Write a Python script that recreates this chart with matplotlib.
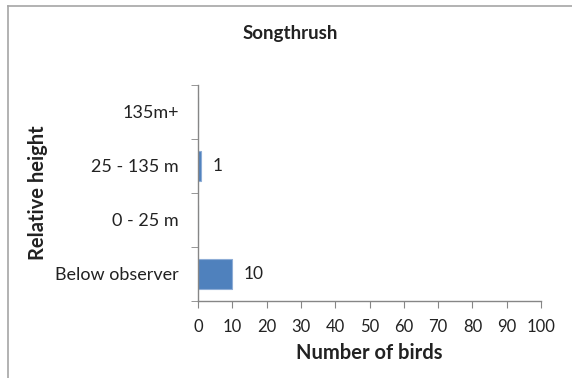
import matplotlib
matplotlib.use("Agg")
from matplotlib import pyplot as plt
from matplotlib.lines import Line2D
import numpy as np

# data
heights = ["Below observer", "0 - 25 m", "25 - 135 m", "135m+"]
birds = [10, 0, 1, 0]
xticks = list(range(0, 101, 10))

plt.rcParams['font.family'] = ['Lato', 'DejaVu Sans']

fig = plt.figure(figsize=(5.72, 3.78), dpi=100)
ax = fig.add_axes([198/572, 1-301/378, (541-198)/572, (301-85)/378])

ypos = np.arange(len(heights))
ax.barh(ypos, birds, height=0.57, color="#4F81BD", edgecolor="#8EADD6", linewidth=0.8)

# value labels beside the bars that have birds
for y, v in zip(ypos, birds):
    if v > 0:
        ax.annotate(str(v), (v, y), xytext=(8, 0), textcoords="offset points",
                    va="center", ha="left", fontsize=12.5, color="#222222")

ax.set_xlim(0, 100)
ax.set_ylim(-0.5, len(heights)-0.5)
ax.set_xticks(xticks)
ax.set_xticklabels([str(t) for t in xticks], fontsize=12, color="#222222")
ax.set_yticks(ypos)
ax.set_yticklabels(heights, fontsize=13, color="#222222")
ax.set_yticks(np.arange(-0.5, len(heights), 1), minor=True)
ax.tick_params(axis="y", which="major", length=0, pad=14)
ax.tick_params(axis="y", which="minor", length=5, color="#868686", direction="out")
ax.tick_params(axis="x", length=5, color="#868686", direction="out", pad=8)

for s in ["top", "right"]:
    ax.spines[s].set_visible(False)
for s in ["left", "bottom"]:
    ax.spines[s].set_color("#868686")
    ax.spines[s].set_linewidth(1.0)

ax.set_xlabel("Number of birds", fontsize=14.5, fontweight="bold", color="#222222", labelpad=6)
ax.set_ylabel("Relative height", fontsize=14.5, fontweight="bold", color="#222222", labelpad=5)
fig.text(290/572, 1-33/378, "Songthrush", ha="center", va="center",
         fontsize=13.5, fontweight="bold", color="#222222")

# chart frame
fig.add_artist(Line2D([7.5/572, 7.5/572], [0, 1-5.5/378], color="#A6A6A6", lw=1.2))
fig.add_artist(Line2D([7.5/572, 1], [1-5.5/378, 1-5.5/378], color="#A6A6A6", lw=1.2))

plt.savefig("out.png", dpi=100)
